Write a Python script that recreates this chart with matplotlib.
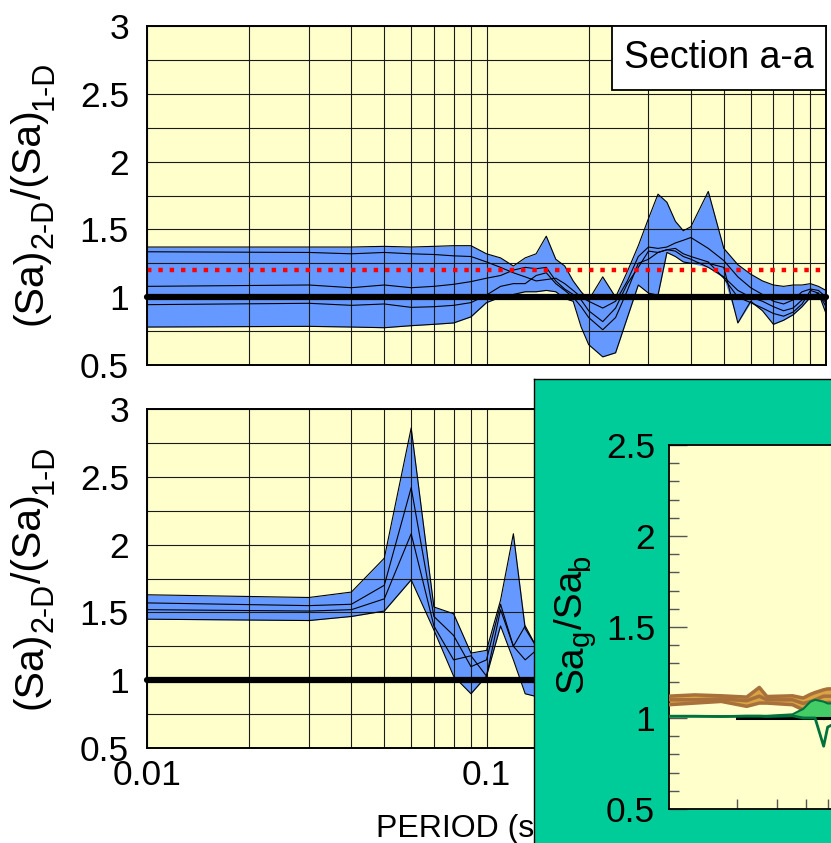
import numpy as np
import matplotlib
matplotlib.use("Agg")
import matplotlib.pyplot as plt
from matplotlib.ticker import FixedLocator, FixedFormatter, NullFormatter, LogLocator
from matplotlib.patches import Rectangle

plt.rcParams['font.family'] = ['Liberation Sans', 'DejaVu Sans']

# ---------------- data ----------------
period_top = [0.01, 0.03, 0.04, 0.05, 0.06, 0.07, 0.08, 0.09,
              0.10, 0.11, 0.12, 0.13, 0.14, 0.15, 0.16, 0.17, 0.18, 0.19, 0.20,
              0.22, 0.24, 0.26, 0.28, 0.30, 0.32, 0.34, 0.36, 0.38, 0.40,
              0.45, 0.50, 0.55, 0.60, 0.65, 0.70, 0.75, 0.80, 0.85, 0.90, 0.95, 1.00]
top_s1 = [1.37, 1.37, 1.37, 1.375, 1.37, 1.375, 1.38, 1.38,
          1.32, 1.29, 1.23, 1.29, 1.32, 1.45, 1.28, 1.23, 1.12, 1.04, 0.98,
          1.15, 1.00, 1.19, 1.38, 1.58, 1.76, 1.70, 1.56, 1.49, 1.52,
          1.78, 1.36, 1.24, 1.17, 1.12, 1.09, 1.08, 1.09, 1.09, 1.10, 1.08, 1.05]
top_s2 = [1.335, 1.33, 1.32, 1.33, 1.32, 1.315, 1.305, 1.30,
          1.26, 1.22, 1.18, 1.15, 1.12, 1.13, 1.14, 1.10, 1.05, 1.00, 0.97,
          0.92, 0.97, 1.12, 1.30, 1.37, 1.36, 1.37, 1.40, 1.42, 1.44,
          1.36, 1.27, 1.15, 1.07, 1.02, 0.97, 0.95, 0.98, 1.04, 1.06, 1.05, 1.00]
top_s3 = [1.08, 1.09, 1.07, 1.09, 1.07, 1.08, 1.095, 1.115,
          1.14, 1.16, 1.20, 1.22, 1.21, 1.22, 1.12, 1.06, 1.02, 0.98, 0.90,
          0.82, 0.92, 1.10, 1.22, 1.34, 1.33, 1.35, 1.34, 1.30, 1.28,
          1.22, 1.15, 1.05, 1.00, 0.97, 0.93, 0.90, 0.92, 0.98, 1.02, 1.02, 0.96]
top_s4 = [0.945, 0.955, 0.94, 0.95, 0.925, 0.93, 0.94, 0.96,
          1.016, 1.08, 1.10, 1.10, 1.16, 1.18, 1.10, 1.05, 1.00, 0.93, 0.85,
          0.76, 0.85, 1.05, 1.25, 1.28, 1.33, 1.35, 1.36, 1.32, 1.30,
          1.26, 1.14, 1.00, 0.96, 0.92, 0.88, 0.86, 0.89, 0.95, 1.05, 1.03, 0.93]
top_s5 = [0.78, 0.785, 0.78, 0.775, 0.79, 0.80, 0.81, 0.855,
          0.96, 1.00, 1.02, 1.04, 1.04, 1.05, 1.04, 0.99, 0.97, 0.78, 0.65,
          0.56, 0.59, 0.85, 1.09, 1.03, 1.015, 1.33, 1.30, 1.26, 1.25,
          1.25, 1.22, 0.81, 0.97, 0.90, 0.80, 0.83, 0.87, 0.93, 1.00, 1.03, 0.88]

period_bot = [0.01, 0.03, 0.04, 0.05, 0.06, 0.07, 0.08, 0.09, 0.10, 0.11, 0.12, 0.13, 0.14, 0.15]
bot_s1 = [1.63, 1.61, 1.65, 1.90, 2.86, 1.54, 1.49, 1.20, 1.22, 1.59, 2.08, 1.38, 1.25, 1.20]
bot_s2 = [1.57, 1.55, 1.56, 1.70, 2.42, 1.47, 1.33, 1.10, 1.15, 1.56, 1.25, 1.40, 1.25, 1.20]
bot_s3 = [1.52, 1.51, 1.52, 1.60, 2.08, 1.40, 1.15, 1.18, 1.03, 1.52, 1.25, 1.15, 1.22, 1.15]
bot_s4 = [1.45, 1.44, 1.47, 1.51, 1.74, 1.37, 1.03, 0.90, 1.03, 1.40, 1.15, 0.90, 0.88, 0.95]

ref_level = 1.0
code_level = 1.2

inset_period = [0.01, 0.013, 0.017, 0.022, 0.025, 0.027, 0.035, 0.039, 0.042, 0.044, 0.048, 0.05, 0.06]
brown_hi = [1.12, 1.127, 1.122, 1.115, 1.168, 1.118, 1.122, 1.11, 1.13, 1.14, 1.155, 1.16, 1.16]
brown_mid = [1.10, 1.10, 1.105, 1.095, 1.12, 1.10, 1.10, 1.08, 1.09, 1.10, 1.12, 1.12, 1.12]
brown_lo = [1.073, 1.082, 1.091, 1.064, 1.082, 1.082, 1.073, 1.045, 1.055, 1.064, 1.082, 1.085, 1.09]
green_hi = [1.01, 1.01, 1.01, 1.012, 1.012, 1.012, 1.02, 1.05, 1.09, 1.10, 1.09, 1.08, 1.08]
green_lo = [1.005, 1.005, 1.005, 1.005, 1.005, 1.005, 1.0, 1.0, 1.0, 1.0, 0.99, 1.0, 1.0]
green_line = [1.01, 1.01, 1.008, 1.01, 1.01, 1.008, 1.012, 1.0, 1.0, 1.0, 0.845, 0.95, 1.0]
inset_ref_period = [0.02, 1.0]

y_ticks = [0.5, 1, 1.5, 2, 2.5, 3]
y_labels = ['0.5', '1', '1.5', '2', '2.5', '3']
x_ticks = [0.01, 0.1]
x_labels = ['0.01', '0.1']
inset_y_ticks = [0.5, 1, 1.5, 2, 2.5]
inset_y_labels = ['0.5', '1', '1.5', '2', '2.5']

# ---------------- layout ----------------
W, H = 831, 843
fig = plt.figure(figsize=(W / 100, H / 100), dpi=100)


def rect(l, t, r, b):
    return [l / W, 1 - b / H, (r - l) / W, (b - t) / H]


YELLOW = '#FFFFCC'
BLUE = '#6699FF'
GRIDC = '#1a1a1a'
TICK_FS = 25.5


def panel(ax, P, series, show_x):
    arr = np.array(series)
    ax.set_facecolor(YELLOW)
    ax.set_xscale('log')
    ax.set_xlim(0.01, 1)
    ax.set_ylim(0.5, 3)
    ax.fill_between(P, arr.min(axis=0), arr.max(axis=0), color=BLUE, lw=0, zorder=1)
    for s in series:
        ax.plot(P, s, color='black', lw=0.8, zorder=3)
    ax.plot([0.01, 1], [ref_level, ref_level], color='black', lw=4.5,
            solid_capstyle='round', zorder=4, clip_on=False)
    ax.xaxis.set_major_locator(FixedLocator(x_ticks))
    ax.xaxis.set_major_formatter(FixedFormatter(x_labels))
    ax.xaxis.set_minor_locator(LogLocator(base=10, subs=np.arange(2, 10)))
    ax.xaxis.set_minor_formatter(NullFormatter())
    ax.yaxis.set_major_locator(FixedLocator(y_ticks))
    ax.yaxis.set_major_formatter(FixedFormatter(y_labels))
    ax.yaxis.set_minor_locator(FixedLocator(np.arange(0.5, 3.01, 0.25)))
    ax.set_axisbelow(False)
    ax.grid(which='both', axis='both', color=GRIDC, lw=0.8)
    for g in ax.get_xgridlines() + ax.get_ygridlines():
        g.set_zorder(2)
    ax.tick_params(which='both', length=0)
    ax.tick_params(axis='y', labelsize=TICK_FS, pad=13)
    ax.tick_params(axis='x', labelsize=TICK_FS, pad=8, labelbottom=show_x)
    for sp in ax.spines.values():
        sp.set_linewidth(1.4)
        sp.set_zorder(6)


ax1 = fig.add_axes(rect(147, 26, 826, 365))
panel(ax1, period_top, [top_s1, top_s2, top_s3, top_s4, top_s5], False)
ax1.plot([0.01, 1], [code_level, code_level], color='#FF0000', lw=3.2,
         linestyle=(0, (1, 1.55)), dash_capstyle='butt', zorder=5)
# Section label box
bx0 = (612 - 147) / (826 - 147)
by0 = (365 - 90) / (365 - 26)
ax1.add_patch(Rectangle((bx0, by0), 1 - bx0, 1 - by0, transform=ax1.transAxes,
                        facecolor='white', edgecolor='black', lw=1.3, zorder=7))
ax1.text((bx0 + 1) / 2, (by0 + 1) / 2, 'Section a-a', transform=ax1.transAxes,
         ha='center', va='center', fontsize=27, zorder=8)

ax2 = fig.add_axes(rect(147, 409, 826, 748))
panel(ax2, period_bot, [bot_s1, bot_s2, bot_s3, bot_s4], True)

fig.text(376 / W, 1 - 829 / H, 'PERIOD (s)', ha='left', va='center', fontsize=23)

# rotated labels with subscripts
renderer = fig.canvas.get_renderer()


def rot_label(x_base, y_center, pieces):
    texts, lengths = [], []
    for s, size, shift in pieces:
        t = fig.text(0, 0, s, fontsize=size, rotation=90, rotation_mode='anchor',
                     ha='left', va='baseline', zorder=20)
        ext = t.get_window_extent(renderer)
        texts.append(t)
        lengths.append(ext.height)
    y = (H - y_center) - sum(lengths) / 2
    for t, (s, size, shift), L in zip(texts, pieces, lengths):
        t.set_position(((x_base + shift) / W, y / H))
        y += L
    return texts


ylab = [('(Sa)', 29.5, 0), ('2-D', 22, 12), ('/(Sa)', 29.5, 0), ('1-D', 22, 12)]
rot_label(41, 193, ylab)
rot_label(41, 577, ylab)

# ---------------- inset ----------------
axg = fig.add_axes(rect(534, 379, 1300, 1300), zorder=10)
axg.set_facecolor('#00CC99')
axg.set_xticks([])
axg.set_yticks([])
for sp in axg.spines.values():
    sp.set_linewidth(1.0)

axi = fig.add_axes(rect(669, 445, 669 + 454, 809), zorder=11)
axi.set_facecolor(YELLOW)
axi.set_xscale('log')
axi.set_xlim(0.01, 1)
axi.set_ylim(0.5, 2.5)
axi.fill_between(inset_period, brown_lo, brown_hi, color='#D9A441', lw=0, zorder=2)
for s in (brown_hi, brown_mid, brown_lo):
    axi.plot(inset_period, s, color='#A8703A', lw=2.5, zorder=3)
axi.fill_between(inset_period, green_lo, green_hi, color='#44CC66', lw=0, zorder=4)
axi.plot(inset_period, green_hi, color='#00703C', lw=1.5, zorder=5)
axi.plot(inset_ref_period, [ref_level, ref_level], color='black', lw=2.2, zorder=5)
axi.plot(inset_period, green_line, color='#00703C', lw=2.0, zorder=6)
axi.yaxis.set_major_locator(FixedLocator(inset_y_ticks))
axi.yaxis.set_major_formatter(FixedFormatter(inset_y_labels))
axi.yaxis.set_minor_locator(FixedLocator(np.arange(0.5, 2.51, 0.1)))
axi.xaxis.set_major_locator(FixedLocator([0.1, 1]))
axi.xaxis.set_minor_locator(LogLocator(base=10, subs=np.arange(2, 10)))
axi.xaxis.set_major_formatter(NullFormatter())
axi.xaxis.set_minor_formatter(NullFormatter())
axi.tick_params(which='major', direction='in', length=13, width=1.0, color='#555555')
axi.tick_params(which='minor', direction='in', length=7.5, width=1.0, color='#555555')
axi.tick_params(axis='y', labelsize=TICK_FS, pad=10)
for sp in axi.spines.values():
    sp.set_linewidth(1.3)

ilab = [('Sa', 28, 0), ('g', 21, 7), ('/Sa', 28, 0), ('b', 21, 7)]
tt = rot_label(582, 624, ilab)
for t in tt:
    t.set_zorder(30)

fig.savefig('out.png', dpi=100)
